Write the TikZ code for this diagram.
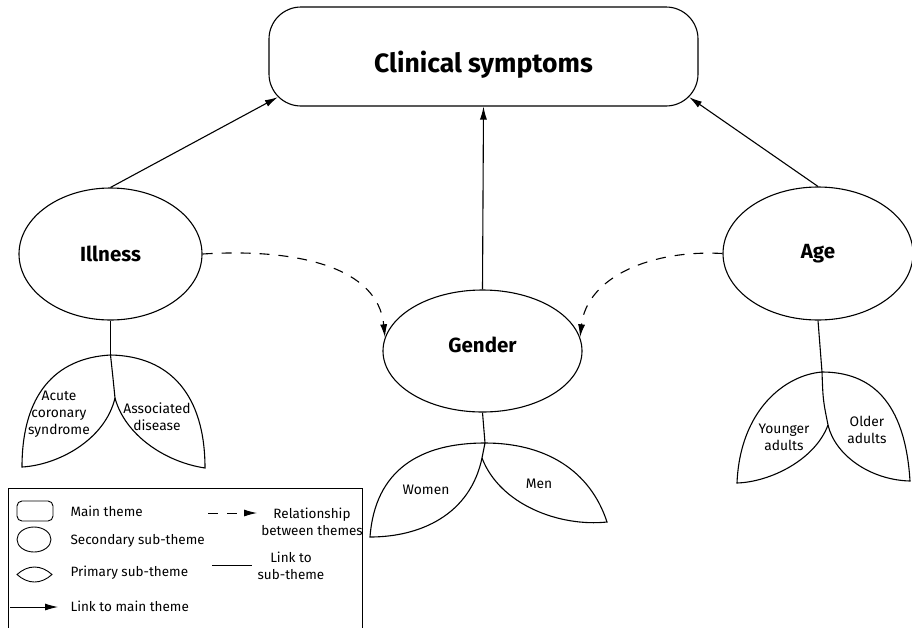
\documentclass[tikz,border=0pt]{standalone}
\usepackage{fontspec}
\setmainfont{Fira Sans}
\usetikzlibrary{positioning,shapes.geometric,arrows.meta}

\begin{document}
\begin{tikzpicture}[x=1pt, y=-1pt, line width=1.1pt,
  every node/.style={align=center, inner sep=0pt},
  maintheme/.style={rectangle, draw, rounded corners=32pt, font=\fontsize{26.5}{30}\selectfont\bfseries},
  subtheme/.style={ellipse, draw, font=\fontsize{20.5}{24}\selectfont\bfseries},
  leaftext/.style={font=\fontsize{13.8}{17}\selectfont},
  keytext/.style={font=\fontsize{13.5}{17}\selectfont},
  tomain/.style={-{Latex[length=13pt,width=7pt]}},
  relation/.style={-{Latex[length=13pt,width=7pt]}, dash pattern=on 10pt off 9pt},
  keyline/.style={line width=0.9pt}]

\useasboundingbox (0,0) rectangle (912,627);

% Theme nodes
\node (main) [maintheme, minimum width=429pt, minimum height=99pt, text height=31pt, text depth=0pt] at (483.5,56.5) {Clinical symptoms};
\node (illness) [subtheme, minimum width=183pt, minimum height=132pt] at (110.5,254) {Illness};
\node (gender) [subtheme, minimum width=199pt, minimum height=122pt, text depth=12pt] at (482.5,351) {Gender};
\node (age) [subtheme, minimum width=190pt, minimum height=133pt] at (818,253.5) {Age};

% Arrows to main theme
\draw[tomain] (illness.north) -- ([shift={(9.4,-9.4)}]main.south west);
\draw[tomain] (gender.north) -- (main.south);
\draw[tomain] (age.north) -- ([shift={(-9.4,-9.4)}]main.south east);

% Relationships between themes
\draw[relation] (illness.east) .. controls +(95,-6) and +(-7,-70) .. (gender.172);
\draw[relation] (age.west) .. controls +(-72,-4) and +(7,-60) .. (gender.8);

% Illness sub-themes
\coordinate (illT) at (110.5,355);
\coordinate (illM) at (115,398);
\coordinate (illL) at (22,467);
\coordinate (illR) at (205,468);
\draw (illness.south) -- (illT);
\draw (illT) .. controls (55,358) and (22,395) .. (illL)
  .. controls (58,465) and (105,440) .. (illM)
  .. controls (113,378) .. (illT);
\draw (illT) .. controls (170,356) and (205,395) .. (illR)
  .. controls (165,462) and (125,435) .. (illM);
\node (acs) [leaftext] at (59,414) {Acute\\coronary\\syndrome};
\node (assoc) [leaftext] at (157,417) {Associated\\disease};

% Gender sub-themes
\coordinate (genT) at (485,443);
\coordinate (genM) at (482,458);
\coordinate (genL) at (370,537);
\coordinate (genR) at (607,522);
\draw (gender.south) -- (genT);
\draw (genT) .. controls (420,443) and (375,470) .. (genL)
  .. controls (420,537) and (470,515) .. (genM) -- (genT);
\draw (genT) .. controls (545,443) and (590,470) .. (genR)
  .. controls (560,527) and (500,505) .. (genM);
\node (women) [leaftext] at (426,490) {Women};
\node (men) [leaftext] at (539,484) {Men};

% Age sub-themes
\coordinate (ageT) at (822,372);
\coordinate (ageM) at (828,425);
\coordinate (ageL) at (737,483);
\coordinate (ageR) at (910,481);
\draw (age.south) -- (ageT);
\draw (ageT) .. controls (785,375) and (740,410) .. (ageL)
  .. controls (770,482) and (815,460) .. (ageM)
  .. controls (823,400) .. (ageT);
\draw (ageT) .. controls (870,372) and (905,400) .. (ageR)
  .. controls (870,480) and (835,455) .. (ageM);
\node (younger) [leaftext] at (784,437) {Younger\\adults};
\node (older) [leaftext] at (867,430) {Older\\adults};

% Key
\draw[keyline] (8,630) |- (362,488) -- (362,630);
\node (keymain) [draw, keyline, rounded corners=5pt, minimum width=36pt, minimum height=20pt] at (35,511) {};
\node (keymaintext) [keytext, anchor=west] at (70,511) {Main theme};
\node (keysub) [ellipse, draw, keyline, minimum width=34pt, minimum height=25pt] at (34,539.5) {};
\node (keysubtext) [keytext, anchor=west] at (70,541) {Secondary sub-theme};
\draw[keyline] (17,574.5) .. controls (28,564.5) and (41,564.5) .. (52,574.5)
  .. controls (41,584.5) and (28,584.5) .. cycle;
\node (keyleaftext) [keytext, anchor=west] at (70,573) {Primary sub-theme};
\coordinate (keyarrowa) at (10,607);
\coordinate (keyarrowb) at (58,607);
\draw[tomain, keyline] (keyarrowa) -- (keyarrowb);
\node (keyarrowtext) [keytext, anchor=west] at (70,606) {Link to main theme};
\coordinate (keydasha) at (208,513);
\coordinate (keydashb) at (257,513);
\draw[relation, keyline] (keydasha) -- (keydashb);
\node (keydashtext) [keytext] at (312,521.5) {Relationship\\between themes};
\coordinate (keylinea) at (212,565);
\coordinate (keylineb) at (252,565);
\draw[keyline] (keylinea) -- (keylineb);
\node (keylinetext) [keytext] at (291,566) {Link to\\sub-theme};

\end{tikzpicture}
\end{document}
